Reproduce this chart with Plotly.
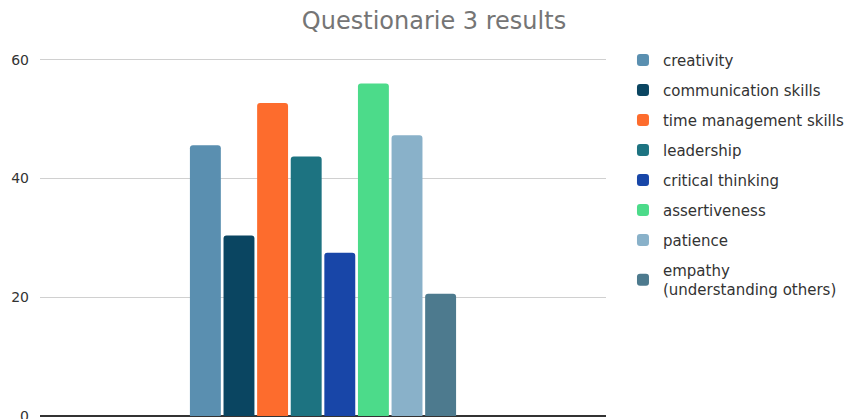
import plotly.graph_objects as go

# Questionnaire 3: share of responses per skill
skills = [
    "creativity",
    "communication skills",
    "time management skills",
    "leadership",
    "critical thinking",
    "assertiveness",
    "patience",
    "empathy<br>(understanding others)",
]
scores = [45.6, 30.4, 52.7, 43.7, 27.5, 56.0, 47.3, 20.6]

palette = [
    "#5a8fb0",
    "#0a4561",
    "#fd6c2d",
    "#1d7381",
    "#1846a8",
    "#4cdb8a",
    "#89b1c9",
    "#4d7a8e",
]

FONT = "DejaVu Sans"

fig = go.Figure()
for i, (name, val) in enumerate(zip(skills, scores)):
    fig.add_trace(
        go.Bar(
            x=[""],
            y=[val],
            name=name,
            legendgroup=f"g{i}",
            marker=dict(color=palette[i], line=dict(width=0)),
        )
    )

fig.update_layout(
    width=868,
    height=419,
    margin=dict(l=40, r=262, t=58, b=3),
    paper_bgcolor="white",
    plot_bgcolor="white",
    barmode="group",
    bargap=0.525,
    bargroupgap=0.08,
    barcornerradius=3,
    font=dict(family=FONT, color="#333333"),
    title=dict(
        text="Questionarie 3 results",
        x=0.5,
        xanchor="center",
        y=0.952,
        yanchor="middle",
        font=dict(family=FONT, size=24, color="#757575"),
    ),
    legend=dict(
        x=1.03,
        xanchor="left",
        y=1.04,
        yanchor="top",
        traceorder="grouped",
        tracegroupgap=7.5,
        maxheight=1,
        font=dict(family=FONT, size=15, color="#333333"),
        bgcolor="rgba(0,0,0,0)",
    ),
    showlegend=True,
)

fig.update_xaxes(
    showgrid=False,
    showticklabels=False,
    showline=False,
    zeroline=False,
    automargin=False,
)
fig.update_yaxes(
    range=[0, 60.3],
    tickvals=[0, 20, 40, 60],
    showgrid=True,
    gridcolor="#d0d0d0",
    gridwidth=1,
    zeroline=True,
    zerolinecolor="#333333",
    zerolinewidth=1.5,
    showline=False,
    ticks="",
    ticklabelstandoff=10,
    ticklabeloverflow="allow",
    automargin=False,
    tickfont=dict(family=FONT, size=14, color="#333333"),
)

fig.write_html("out.html")
